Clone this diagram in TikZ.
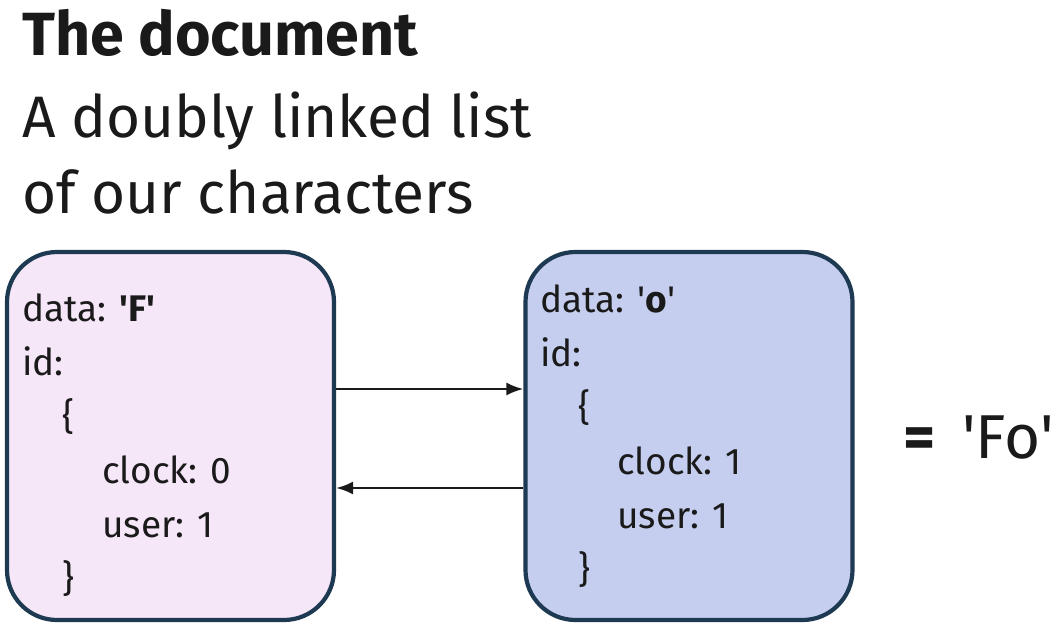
\documentclass[tikz,border=0pt]{standalone}
\usepackage{fontspec}
\setmainfont{Fira Sans}
\usetikzlibrary{positioning,arrows.meta}
\definecolor{edgeblue}{HTML}{1E3A52}
\definecolor{pinkfill}{HTML}{F5E6F8}
\definecolor{bluefill}{HTML}{C5CEEE}
\definecolor{inkgray}{HTML}{1A1A1A}
\newcommand{\sq}{\textquotesingle}
\tikzstyle{charbox} = [rectangle, rounded corners=50pt, draw=edgeblue, line width=4.2pt,
    minimum width=327pt, minimum height=368pt]
\tikzstyle{fields} = [align=left, anchor=west, inner sep=0pt, text=inkgray,
    font=\fontsize{37}{54}\selectfont]
\tikzstyle{heading} = [anchor=base west, inner sep=0pt, text=inkgray]
\tikzstyle{link} = [-{Latex[length=17pt,width=13pt]}, line width=2.4pt, inkgray]

\begin{document}
\begin{tikzpicture}[x=1pt,y=-1pt]
\useasboundingbox (0,0) rectangle (1058,640);

\node[heading,font=\fontsize{61}{66}\bfseries] (title) at (22,55) {The document};
\node[heading,font=\fontsize{58.5}{66}\selectfont] (sub1) at (22,137) {A doubly linked list};
\node[heading,font=\fontsize{58.5}{66}\selectfont] (sub2) at (22,213) {of our characters};

\node[charbox,fill=pinkfill] (boxF) at (170.5,436) {};
\node[charbox,fill=bluefill] (boxO) at (689,436) {};

\node[fields] (textF) at (22,445) {data: \textbf{\sq F\sq}\\ id:\\ \hspace*{40pt}\{\\
    \hspace*{80pt}clock: 0\\ \hspace*{80pt}user: 1\\ \hspace*{40pt}\}};
\node[fields] (textO) at (540,436) {data: \sq\textbf{o}\sq\\ id:\\ \hspace*{38pt}\{\\
    \hspace*{77pt}clock: 1\\ \hspace*{77pt}user: 1\\ \hspace*{38pt}\}};

\draw [link] ([yshift=47pt]boxF.east) -- ([yshift=47pt]boxF.east -| boxO.west);
\draw [link] ([yshift=-52pt]boxO.west) -- ([yshift=-52pt]boxO.west -| boxF.east);

\node[heading,font=\fontsize{62}{66}\bfseries] (eqsign) at (903,458) {=};
\node[heading,font=\fontsize{62}{66}\selectfont] (result) at (962,458) {\sq Fo\sq};

\end{tikzpicture}
\end{document}
